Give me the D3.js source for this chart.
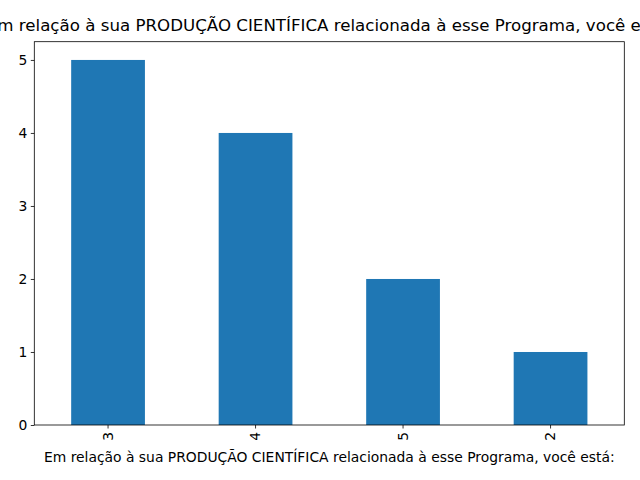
<!DOCTYPE html>
<html>
<head>
<meta charset="utf-8">
<style>
  body { margin: 0; background: #fff; }
  text { font-family: "DejaVu Sans", sans-serif; fill: #000; }
</style>
</head>
<body>
<script src="https://d3js.org/d3.v7.min.js"></script>
<script>
// dados
var categories = ["3", "4", "5", "2"];
var counts = [5, 4, 2, 1];
var yTicks = [0, 1, 2, 3, 4, 5];
var titleText = "Em relação à sua PRODUÇÃO CIENTÍFICA relacionada à esse Programa, você está:";
var xLabelText = "Em relação à sua PRODUÇÃO CIENTÍFICA relacionada à esse Programa, você está:";

var W = 640, H = 480;
var mLeft = 34.3, mRight = 624.3, mTop = 41.7, mBottom = 425;

var svg = d3.select("body").append("svg")
  .attr("width", W).attr("height", H);

var x = d3.scaleBand().domain(categories).range([mLeft, mRight]).paddingInner(0.5).paddingOuter(0.25);
var y = d3.scaleLinear().domain([0, 5.25]).range([mBottom, mTop]);

// barras
svg.selectAll("rect.bar").data(counts).enter().append("rect")
  .attr("class", "bar")
  .attr("x", (d, i) => x(categories[i]))
  .attr("width", x.bandwidth())
  .attr("y", d => y(d))
  .attr("height", d => y(0) - y(d))
  .attr("fill", "#1f77b4");

// eixo y
var yAxis = svg.append("g").attr("transform", "translate(" + mLeft + ",0)")
  .call(d3.axisLeft(y).tickValues(yTicks).tickSize(3.5).tickPadding(3.5).tickFormat(d3.format("d")));
yAxis.select(".domain").remove();
yAxis.selectAll("text").style("font-size", "13.89px").attr("font-family", null);
yAxis.selectAll("line").attr("stroke", "#000").attr("stroke-width", 0.8);

// eixo x
var xAxis = svg.append("g").attr("transform", "translate(0," + mBottom + ")")
  .call(d3.axisBottom(x).tickSize(3.5).tickPadding(3.5));
xAxis.select(".domain").remove();
xAxis.selectAll("line").attr("stroke", "#000").attr("stroke-width", 0.8);
xAxis.selectAll("text")
  .style("font-size", "13.89px")
  .attr("font-family", null)
  .attr("y", 0).attr("dy", "0.35em")
  .attr("text-anchor", "end")
  .attr("transform", "translate(0,7) rotate(-90)");

// moldura
svg.append("rect")
  .attr("x", mLeft).attr("y", mTop)
  .attr("width", mRight - mLeft).attr("height", mBottom - mTop)
  .attr("fill", "none").attr("stroke", "#000").attr("stroke-width", 0.8);

// titulo
svg.append("text")
  .attr("x", (mLeft + mRight) / 2).attr("y", 30.5)
  .attr("text-anchor", "middle")
  .style("font-size", "16.67px")
  .text(titleText);

// rotulo x
svg.append("text")
  .attr("x", (mLeft + mRight) / 2).attr("y", 462)
  .attr("text-anchor", "middle")
  .style("font-size", "13.89px")
  .text(xLabelText);
</script>
</body>
</html>
